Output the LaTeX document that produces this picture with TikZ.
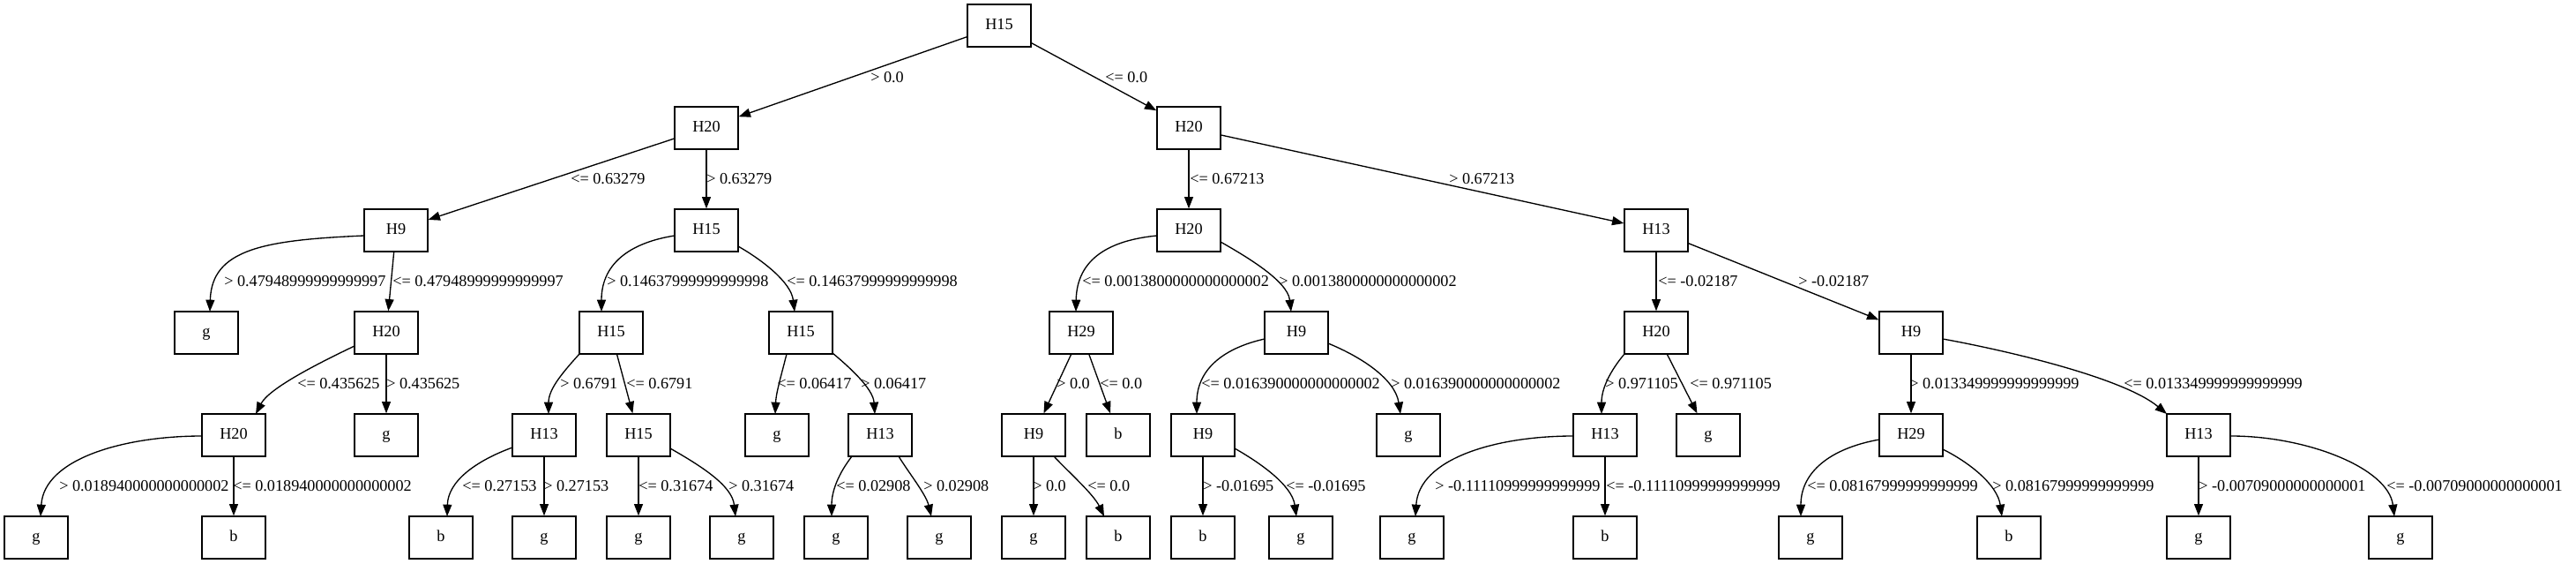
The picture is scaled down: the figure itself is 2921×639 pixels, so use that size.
\documentclass[tikz,border=0pt]{standalone}
\usepackage{fontspec}
\setmainfont{Liberation Serif}
\usetikzlibrary{arrows.meta}
\begin{document}
\begin{tikzpicture}[x=0.75pt,y=-0.75pt,
  box/.style={draw,line width=1pt,minimum width=54pt,minimum height=36pt,inner sep=0pt,
    font=\fontsize{13.7pt}{16pt}\selectfont,text height=9.3pt,text depth=3pt},
  lbl/.style={anchor=base west,inner sep=0pt,font=\fontsize{13.65pt}{16pt}\selectfont},
  edge/.style={line width=1pt,-{Triangle[length=10pt,width=7.5pt]}}]
\useasboundingbox (0,0) rectangle (2921,639);
% level 0
\node[box] (n0) at (1133,29) {H15};
% level 1
\node[box] (n1) at (801,145) {H20};
\node[box] (n2) at (1348,145) {H20};
% level 2
\node[box] (n3) at (449,261) {H9};
\node[box] (n4) at (801,261) {H15};
\node[box] (n5) at (1348,261) {H20};
\node[box] (n6) at (1878,261) {H13};
% level 3
\node[box] (n7) at (234,377) {g};
\node[box] (n8) at (438,377) {H20};
\node[box] (n9) at (693,377) {H15};
\node[box] (n10) at (908,377) {H15};
\node[box] (n11) at (1226,377) {H29};
\node[box] (n12) at (1470,377) {H9};
\node[box] (n13) at (1878,377) {H20};
\node[box] (n14) at (2167,377) {H9};
% level 4
\node[box] (n15) at (265,493) {H20};
\node[box] (n16) at (438,493) {g};
\node[box] (n17) at (617,493) {H13};
\node[box] (n18) at (724,493) {H15};
\node[box] (n19) at (881,493) {g};
\node[box] (n20) at (998,493) {H13};
\node[box] (n21) at (1172,493) {H9};
\node[box] (n22) at (1268,493) {b};
\node[box] (n23) at (1364,493) {H9};
\node[box] (n24) at (1597,493) {g};
\node[box] (n25) at (1820,493) {H13};
\node[box] (n26) at (1937,493) {g};
\node[box] (n27) at (2167,493) {H29};
\node[box] (n28) at (2493,493) {H13};
% level 5
\node[box] (n29) at (41,609) {g};
\node[box] (n30) at (265,609) {b};
\node[box] (n31) at (500,609) {b};
\node[box] (n32) at (617,609) {g};
\node[box] (n33) at (724,609) {g};
\node[box] (n34) at (841,609) {g};
\node[box] (n35) at (948,609) {g};
\node[box] (n36) at (1065,609) {g};
\node[box] (n37) at (1172,609) {g};
\node[box] (n38) at (1268,609) {b};
\node[box] (n39) at (1364,609) {b};
\node[box] (n40) at (1475,609) {g};
\node[box] (n41) at (1601,609) {g};
\node[box] (n42) at (1820,609) {b};
\node[box] (n43) at (2053,609) {g};
\node[box] (n44) at (2278,609) {b};
\node[box] (n45) at (2493,609) {g};
\node[box] (n46) at (2722,609) {g};

% edges level 0-1
\draw[edge] (n0) -- (n1);
\draw[edge] (n0) -- (n2);
% level 1-2
\draw[edge] (n1) -- (n3);
\draw[edge] (n1) -- (n4);
\draw[edge] (n2) -- (n5);
\draw[edge] (n2) -- (n6);
% level 2-3
\draw[edge] ([shift={(-36,6)}]n3.center) .. controls (300,272) and (240,282) .. ([shift={(4,-24)}]n7.center);
\draw[edge] (n3) -- (n8);
\draw[edge] ([shift={(-36,6)}]n4.center) .. controls (720,274) and (682,295) .. ([shift={(-11,-24)}]n9.center);
\draw[edge] ([shift={(36,18)}]n4.center) .. controls (865,295) and (897,320) .. ([shift={(-7,-24)}]n10.center);
\draw[edge] ([shift={(-36,6)}]n5.center) .. controls (1260,272) and (1221,292) .. ([shift={(-6,-24)}]n11.center);
\draw[edge] ([shift={(36,13)}]n5.center) .. controls (1412,290) and (1460,318) .. ([shift={(-6,-24)}]n12.center);
\draw[edge] (n6) -- (n13);
\draw[edge] (n6) -- (n14);
% level 3-4
\draw[edge] ([shift={(-36,15)}]n8.center) .. controls (360,412) and (305,440) .. ([shift={(25,-24)}]n15.center);
\draw[edge] (n8) -- (n16);
\draw[edge] ([shift={(-36,24)}]n9.center) .. controls (640,420) and (622,440) .. ([shift={(5,-24)}]n17.center);
\draw[edge] (n9) -- (n18);
\draw[edge] ([shift={(-16,24)}]n10.center) .. controls (886,425) and (880,445) .. ([shift={(-2,-24)}]n19.center);
\draw[edge] ([shift={(36,23)}]n10.center) .. controls (962,415) and (990,440) .. ([shift={(-6,-24)}]n20.center);
\draw[edge] (n11) -- (n21);
\draw[edge] (n11) -- (n22);
\draw[edge] ([shift={(-36,7)}]n12.center) .. controls (1385,395) and (1357,420) .. ([shift={(-7,-24)}]n23.center);
\draw[edge] ([shift={(36,12)}]n12.center) .. controls (1545,405) and (1582,430) .. ([shift={(-9,-24)}]n24.center);
\draw[edge] ([shift={(-36,24)}]n13.center) .. controls (1826,420) and (1816,440) .. ([shift={(-4,-24)}]n25.center);
\draw[edge] (n13) -- (n26);
\draw[edge] (n14) -- (n27);
\draw[edge] ([shift={(36,7)}]n14.center) .. controls (2290,400) and (2410,430) .. ([shift={(-36,-24)}]n28.center);
% level 4-5
\draw[edge] ([shift={(-36,1)}]n15.center) .. controls (140,494) and (50,520) .. ([shift={(5,-24)}]n29.center);
\draw[edge] (n15) -- (n30);
\draw[edge] ([shift={(-36,14)}]n17.center) .. controls (540,522) and (508,545) .. ([shift={(7,-24)}]n31.center);
\draw[edge] (n17) -- (n32);
\draw[edge] (n18) -- (n33);
\draw[edge] ([shift={(36,15)}]n18.center) .. controls (795,528) and (830,550) .. ([shift={(-7,-24)}]n34.center);
\draw[edge] ([shift={(-32,24)}]n20.center) .. controls (952,535) and (943,555) .. ([shift={(-5,-24)}]n35.center);
\draw[edge] ([shift={(21,24)}]n20.center) .. controls (1030,535) and (1050,560) .. ([shift={(-9,-24)}]n36.center);
\draw[edge] (n21) -- (n37);
\draw[edge] ([shift={(23,24)}]n21.center) .. controls (1212,535) and (1240,560) .. ([shift={(-16,-24)}]n38.center);
\draw[edge] (n23) -- (n39);
\draw[edge] ([shift={(36,15)}]n23.center) .. controls (1430,525) and (1465,550) .. ([shift={(-5,-24)}]n40.center);
\draw[edge] ([shift={(-36,1)}]n25.center) .. controls (1695,494) and (1609,520) .. ([shift={(4,-24)}]n41.center);
\draw[edge] (n25) -- (n42);
\draw[edge] ([shift={(-36,5)}]n27.center) .. controls (2075,508) and (2042,535) .. ([shift={(-11,-24)}]n43.center);
\draw[edge] ([shift={(36,16)}]n27.center) .. controls (2235,525) and (2265,550) .. ([shift={(-8,-24)}]n44.center);
\draw[edge] (n28) -- (n45);
\draw[edge] ([shift={(37,1)}]n28.center) .. controls (2615,494) and (2708,530) .. ([shift={(-7,-24)}]n46.center);

% labels level 0-1
\node[lbl] (t1) at (987,93) {> 0.0};
\node[lbl] (t2) at (1253,93) {<= 0.0};
% level 1-2
\node[lbl] (t3) at (647,208) {<= 0.63279};
\node[lbl] (t4) at (801,208) {> 0.63279};
\node[lbl] (t5) at (1349,208) {<= 0.67213};
\node[lbl] (t6) at (1643,208) {> 0.67213};
% level 2-3
\node[lbl] (t7) at (254,324) {> 0.47948999999999997};
\node[lbl] (t8) at (445,324) {<= 0.47948999999999997};
\node[lbl] (t9) at (688,324) {> 0.14637999999999998};
\node[lbl] (t10) at (892,324) {<= 0.14637999999999998};
\node[lbl] (t11) at (1227,324) {<= 0.0013800000000000002};
\node[lbl] (t12) at (1450,324) {> 0.0013800000000000002};
\node[lbl] (t13) at (1880,324) {<= -0.02187};
\node[lbl] (t14) at (2039,324) {> -0.02187};
% level 3-4
\node[lbl] (t15) at (337,440) {<= 0.435625};
\node[lbl] (t16) at (438,440) {> 0.435625};
\node[lbl] (t17) at (635,440) {> 0.6791};
\node[lbl] (t18) at (710,440) {<= 0.6791};
\node[lbl] (t19) at (881,440) {<= 0.06417};
\node[lbl] (t20) at (976,440) {> 0.06417};
\node[lbl] (t21) at (1198,440) {> 0.0};
\node[lbl] (t22) at (1247,440) {<= 0.0};
\node[lbl] (t23) at (1362,440) {<= 0.016390000000000002};
\node[lbl] (t24) at (1577,440) {> 0.016390000000000002};
\node[lbl] (t25) at (1820,440) {> 0.971105};
\node[lbl] (t26) at (1916,440) {<= 0.971105};
\node[lbl] (t27) at (2165,440) {> 0.013349999999999999};
\node[lbl] (t28) at (2408,440) {<= 0.013349999999999999};
% level 4-5
\node[lbl] (t29) at (67,556) {> 0.018940000000000002};
\node[lbl] (t30) at (264,556) {<= 0.018940000000000002};
\node[lbl] (t31) at (524,556) {<= 0.27153};
\node[lbl] (t32) at (616,556) {> 0.27153};
\node[lbl] (t33) at (724,556) {<= 0.31674};
\node[lbl] (t34) at (826,556) {> 0.31674};
\node[lbl] (t35) at (948,556) {<= 0.02908};
\node[lbl] (t36) at (1047,556) {> 0.02908};
\node[lbl] (t37) at (1171,556) {> 0.0};
\node[lbl] (t38) at (1233,556) {<= 0.0};
\node[lbl] (t39) at (1364,556) {> -0.01695};
\node[lbl] (t40) at (1458,556) {<= -0.01695};
\node[lbl] (t41) at (1627,556) {> -0.11110999999999999};
\node[lbl] (t42) at (1821,556) {<= -0.11110999999999999};
\node[lbl] (t43) at (2049,556) {<= 0.08167999999999999};
\node[lbl] (t44) at (2259,556) {> 0.08167999999999999};
\node[lbl] (t45) at (2493,556) {> -0.00709000000000001};
\node[lbl] (t46) at (2706,556) {<= -0.00709000000000001};
\end{tikzpicture}
\end{document}
